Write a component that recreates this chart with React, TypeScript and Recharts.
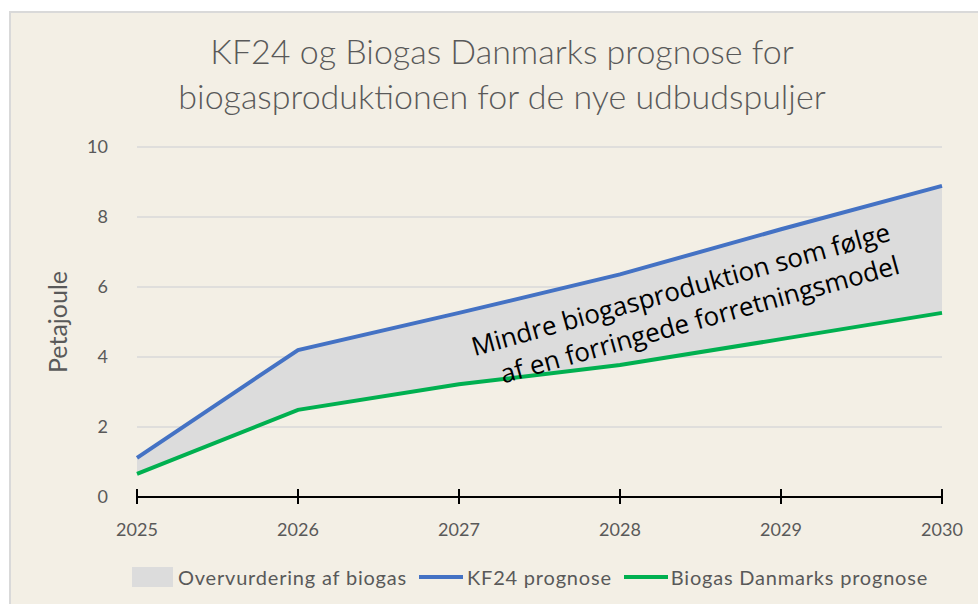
import { ComposedChart, Area, Line, XAxis, YAxis, CartesianGrid } from "recharts";

const YEARS = [2025, 2026, 2027, 2028, 2029, 2030];
const KF24 = [1.12, 4.2, 5.26, 6.36, 7.65, 8.89];
const BIOGAS_DK = [0.66, 2.49, 3.22, 3.77, 4.51, 5.26];
const Y_TICKS = [0, 2, 4, 6, 8, 10];

const data = YEARS.map((year, i) => ({
  year,
  kf24: KF24[i],
  bdk: BIOGAS_DK[i],
  gap: [BIOGAS_DK[i], KF24[i]],
}));

const GREY_TEXT = "#595959";
const FONT = "Lato, 'Open Sans', sans-serif";

function YearTick(props: any) {
  const { x, y, payload } = props;
  return (
    <g>
      <line x1={x} x2={x} y1={y - 8} y2={y + 7} stroke="#000" strokeWidth={2} />
      <text x={x} y={y + 39} textAnchor="middle" fill={GREY_TEXT} fontSize={18} fontFamily={FONT}>
        {payload.value}
      </text>
    </g>
  );
}

export default function App() {
  return (
    <div style={{ position: "absolute", left: 0, top: 0, width: 978, height: 604, background: "#fff", overflow: "hidden" }}>
      <div
        style={{
          position: "absolute",
          left: 9,
          top: 11,
          width: 978,
          height: 604,
          background: "#f3efe5",
          borderLeft: "2px solid #d9d9d9",
          borderTop: "2px solid #d9d9d9",
        }}
      />
      <div
        style={{
          position: "absolute",
          left: 0,
          top: 28,
          width: 1004,
          textAlign: "center",
          fontFamily: FONT,
          fontWeight: 300,
          fontSize: 34,
          lineHeight: "45px",
          color: GREY_TEXT,
        }}
      >
        KF24 og Biogas Danmarks prognose for
        <br />
        biogasproduktionen for de nye udbudspuljer
      </div>
      <div
        style={{
          position: "absolute",
          left: 57,
          top: 322,
          transform: "translate(-50%, -50%) rotate(-90deg)",
          fontFamily: FONT,
          fontSize: 25,
          color: GREY_TEXT,
          whiteSpace: "nowrap",
        }}
      >
        Petajoule
      </div>
      <div style={{ position: "absolute", left: 0, top: 0 }}>
        <ComposedChart width={978} height={604} data={data} margin={{ top: 147, right: 36, bottom: 77, left: 0 }}>
          <CartesianGrid horizontal vertical={false} stroke="#d9d9d9" strokeWidth={1.5} />
          <XAxis
            dataKey="year"
            type="number"
            domain={[2025, 2030]}
            ticks={YEARS}
            height={30}
            axisLine={{ stroke: "#000", strokeWidth: 2 }}
            tickLine={false}
            tickSize={0}
            tickMargin={0}
            tick={<YearTick />}
          />
          <YAxis
            domain={[0, 10]}
            ticks={Y_TICKS}
            width={137}
            axisLine={false}
            tickLine={false}
            tickSize={0}
            tickMargin={29}
            tick={{ fill: GREY_TEXT, fontSize: 18, fontFamily: FONT }}
          />
          <Area dataKey="gap" stroke="none" fill="#dcdcdc" fillOpacity={1} isAnimationActive={false} />
          <Line dataKey="kf24" stroke="#4472c4" strokeWidth={4} dot={false} isAnimationActive={false} />
          <Line dataKey="bdk" stroke="#00b050" strokeWidth={4} dot={false} isAnimationActive={false} />
        </ComposedChart>
      </div>
      <div
        style={{
          position: "absolute",
          left: 685,
          top: 305,
          transform: "translate(-50%, -50%) rotate(-15.5deg)",
          fontFamily: "'Open Sans', sans-serif",
          fontSize: 26,
          lineHeight: "34px",
          color: "#000",
          textAlign: "right",
          whiteSpace: "nowrap",
        }}
      >
        Mindre biogasproduktion som følge
        <br />
        af en forringede forretningsmodel
      </div>
      <div
        style={{
          position: "absolute",
          left: 132,
          top: 565,
          display: "flex",
          alignItems: "center",
          fontFamily: FONT,
          fontSize: 20,
          letterSpacing: 0.8,
          color: GREY_TEXT,
          whiteSpace: "nowrap",
        }}
      >
        <span style={{ display: "inline-block", width: 41, height: 20, background: "#dcdcdc", marginRight: 5 }} />
        <span style={{ marginRight: 12 }}>Overvurdering af biogas</span>
        <span style={{ display: "inline-block", width: 44, height: 4, background: "#4472c4", marginRight: 4 }} />
        <span style={{ marginRight: 12 }}>KF24 prognose</span>
        <span style={{ display: "inline-block", width: 44, height: 4, background: "#00b050", marginRight: 3 }} />
        <span>Biogas Danmarks prognose</span>
      </div>
    </div>
  );
}
